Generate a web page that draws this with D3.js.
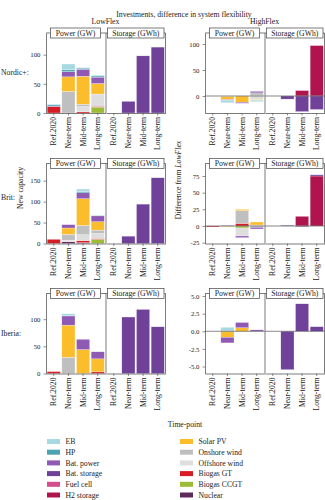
<html>
<head>
<meta charset="utf-8">
<script src="https://d3js.org/d3.v7.min.js"></script>
<style>
body { margin: 0; background: #fff; }
text { font-family: "Liberation Serif", "DejaVu Serif", serif; fill: #222; }
</style>
</head>
<body>
<script>
// categories
var timepoints = ["Ref.2020", "Near-term", "Mid-term", "Long-term"];
// stack order, bottom up
var techs = ["Nuclear", "Biogas CCGT", "Biogas GT", "Offshore wind", "Onshore wind", "Solar PV",
             "H2 storage", "Fuel cell", "Bat. storage", "Bat. power", "HP", "EB"];
var techColors = ["#5e2a5e", "#9cbc38", "#d81c24", "#dedede", "#bfbfbf", "#fbbd2c",
                  "#b0144f", "#d44d8c", "#6f4199", "#8e5ab4", "#4ba3b3", "#a6d9e0"];
var legendLeft = ["EB", "HP", "Bat. power", "Bat. storage", "Fuel cell", "H2 storage"];
var legendRight = ["Solar PV", "Onshore wind", "Offshore wind", "Biogas GT", "Biogas CCGT", "Nuclear"];

// values per technology, one per time-point
var nordicLowPower = {
    "Biogas CCGT": [0, 0, 0, 10], "Biogas GT": [11, 0, 2, 1.5], "Offshore wind": [0, 0, 9, 21],
    "Onshore wind": [0, 37, 4, 0], "Solar PV": [0, 25, 48, 18], "Bat. power": [1, 9, 12, 11],
    "HP": [2, 3, 2, 2], "EB": [1.5, 10, 1, 1.5]
};
var nordicLowStorage = { "Bat. storage": [0, 20, 98, 113] };
var nordicHighPower = {
    "Biogas CCGT": [0, 0, 0, 1], "Offshore wind": [0, -1, 0, -7], "Onshore wind": [0, 0, 0, 5],
    "Solar PV": [0, -6, -12, -1], "Bat. power": [0, -1, -2, 3], "HP": [0, -1, 0, 0], "EB": [0, -4, 0, -3]
};
var nordicHighStorage = { "H2 storage": [0, 0, 10.5, 97], "Bat. storage": [0, -6, -30, -26] };

var britLowPower = {
    "Nuclear": [0, 4, 2, 0], "Biogas CCGT": [0, 0, 0, 10], "Biogas GT": [10, 1, 5, 2],
    "Offshore wind": [0, 3, 14, 12], "Onshore wind": [0, 14, 22, 8], "Solar PV": [0, 15, 64, 20],
    "Bat. power": [0, 8, 14, 14], "HP": [0, 0, 3, 1], "EB": [0, 0, 6, 0]
};
var britLowStorage = { "Bat. storage": [0, 17.5, 94, 157] };
var britHighPower = {
    "Biogas CCGT": [0, 0, -3, 0], "Biogas GT": [-1.5, 0, 4, 0], "Offshore wind": [0, 0, -12, 1.5],
    "Onshore wind": [0, 0, 19, -2], "Solar PV": [0, -1, 2, 4.5], "Bat. power": [0, 0.8, -2.5, -2.5]
};
var britHighStorage = { "H2 storage": [0, 0, 14.5, 75], "Bat. storage": [0, 1.2, -1, 1.8] };

var iberiaLowPower = {
    "Biogas GT": [3.5, 0, 0, 3], "Onshore wind": [0, 30, 0, 0], "Solar PV": [0, 59, 44, 24],
    "Bat. power": [0, 17, 19, 13], "HP": [0, 1, 0, 0], "EB": [0, 3, 0, 0]
};
var iberiaLowStorage = { "Bat. storage": [0, 104, 118, 86] };
var iberiaHighPower = {
    "Solar PV": [0, -0.85, 0.5, 0], "Bat. power": [0, -0.8, 0.75, 0.2],
    "HP": [0, 0.12, 0, 0], "EB": [0, 0.45, 0, 0]
};
var iberiaHighStorage = { "Bat. storage": [0, -5.45, 3.9, 0.65] };

var rowLabels = ["Nordic+:", "Brit:", "Iberia:"];
var flexLabels = ["LowFlex", "HighFlex"];
var panelLabels = ["Power (GW)", "Storage (GWh)"];

var rows = [
    { label: rowLabels[0], top: 33, labelY: 75,
      data: [[nordicLowPower, nordicLowStorage], [nordicHighPower, nordicHighStorage]],
      domain: [[0, 137.2], [-32.7, 121.2]], ticks: [[0, 50, 100], [0, 50, 100]], fmt: ["d", "d"] },
    { label: rowLabels[1], top: 163.5, labelY: 200,
      data: [[britLowPower, britLowStorage], [britHighPower, britHighStorage]],
      domain: [[0, 191], [-26.25, 93.75]], ticks: [[0, 50, 100, 150], [-25, 0, 25, 50, 75]], fmt: ["d", "d"] },
    { label: rowLabels[2], top: 293.5, labelY: 336,
      data: [[iberiaLowPower, iberiaLowStorage], [iberiaHighPower, iberiaHighStorage]],
      domain: [[0, 147.3], [-5.99, 5.36]], ticks: [[0, 50, 100], [-5, -2.5, 0, 2.5, 5]], fmt: ["d", ".1f"] }
];
var colX = [46, 205];
var panelW = 59.5, panelH = 80;
var lineCol = "#444";

var color = d3.scaleOrdinal().domain(techs).range(techColors);

var svg = d3.select("body").append("svg")
    .attr("width", 325)
    .attr("height", 500);

svg.append("text")
    .attr("x", 184).attr("y", 16.5)
    .attr("text-anchor", "middle")
    .style("font-size", "7.7px")
    .text("Investments, difference in system flexibility");

flexLabels.forEach(function(f, c) {
    svg.append("text")
        .attr("x", colX[c] + panelW).attr("y", 23.5)
        .attr("text-anchor", "middle")
        .style("font-size", "7.7px")
        .text(f);
});

var stack = d3.stack().keys(techs).offset(d3.stackOffsetDiverging);

rows.forEach(function(r) {
    svg.append("text")
        .attr("x", 1).attr("y", r.labelY)
        .style("font-size", "7.7px")
        .text(r.label);

    [0, 1].forEach(function(c) {
        var bottom = r.top + panelH;
        var y = d3.scaleLinear().domain(r.domain[c]).range([bottom, r.top]);
        var g = svg.append("g");

        // strip line behind the boxes
        g.append("line")
            .attr("x1", colX[c]).attr("x2", colX[c] + 2 * panelW + 0.5)
            .attr("y1", r.top).attr("y2", r.top)
            .attr("stroke", lineCol).attr("stroke-width", 0.7);

        [0, 1].forEach(function(p) {
            var x0 = colX[c] + p * 60;
            var x = d3.scaleBand().domain(timepoints)
                .range([x0, x0 + panelW])
                .paddingInner(0.1).paddingOuter(0.08);

            var vals = r.data[c][p];
            var table = timepoints.map(function(tp, i) {
                var o = { tp: tp };
                techs.forEach(function(t) { o[t] = vals[t] ? vals[t][i] : 0; });
                return o;
            });
            var series = stack(table);

            g.selectAll(null)
                .data(series)
                .enter().append("g")
                .attr("fill", function(s) { return color(s.key); })
                .selectAll("rect")
                .data(function(s) { return s.filter(function(d) { return d[1] !== d[0]; }); })
                .enter().append("rect")
                .attr("x", function(d) { return x(d.data.tp); })
                .attr("width", x.bandwidth())
                .attr("y", function(d) { return y(Math.max(d[0], d[1])); })
                .attr("height", function(d) { return Math.abs(y(d[0]) - y(d[1])); })
                .attr("stroke", "#fff").attr("stroke-width", 0.4).attr("stroke-opacity", 0.7);

            if (r.domain[c][0] < 0) {
                g.append("line")
                    .attr("x1", x0).attr("x2", x0 + panelW)
                    .attr("y1", y(0)).attr("y2", y(0))
                    .attr("stroke", "#555").attr("stroke-width", 0.7);
            }

            // x axis
            var xa = g.append("g")
                .attr("transform", "translate(0," + bottom + ")")
                .call(d3.axisBottom(x).tickSize(2.5).tickSizeOuter(0));
            xa.select(".domain").attr("stroke", lineCol).attr("stroke-width", 0.7);
            xa.selectAll(".tick line").attr("stroke", lineCol).attr("stroke-width", 0.6);
            xa.selectAll("text")
                .attr("transform", "rotate(-90)")
                .attr("text-anchor", "end")
                .attr("x", -4).attr("y", 0).attr("dy", "0.35em")
                .style("font-size", "7.7px")
                .style("font-family", "Liberation Serif")
                .attr("fill", "#222");

            // panel borders
            if (p === 1) {
                [x0, x0 + panelW].forEach(function(xx) {
                    g.append("line")
                        .attr("x1", xx).attr("x2", xx)
                        .attr("y1", r.top).attr("y2", bottom)
                        .attr("stroke", lineCol).attr("stroke-width", 0.7);
                });
            }

            // strip box
            var bx0 = p === 0 ? x0 + 4.5 : x0 + 1.5;
            var bx1 = p === 0 ? x0 + panelW - 5 : x0 + panelW - 1.5;
            g.append("rect")
                .attr("x", bx0).attr("y", r.top - 5)
                .attr("width", bx1 - bx0).attr("height", 10)
                .attr("fill", "#fff")
                .attr("stroke", lineCol).attr("stroke-width", 0.7);
            g.append("text")
                .attr("x", (bx0 + bx1) / 2).attr("y", r.top + 2.6)
                .attr("text-anchor", "middle")
                .style("font-size", "7.7px")
                .text(panelLabels[p]);
        });

        // y axis
        var fmt = d3.format(r.fmt[c]);
        var ya = g.append("g")
            .attr("transform", "translate(" + colX[c] + ",0)")
            .call(d3.axisLeft(y).tickValues(r.ticks[c]).tickSize(2.5).tickSizeOuter(0)
                .tickFormat(function(d) { return (d < 0 ? "-" : "") + fmt(Math.abs(d)); }));
        ya.select(".domain").attr("stroke", lineCol).attr("stroke-width", 0.7);
        ya.selectAll(".tick line").attr("stroke", lineCol).attr("stroke-width", 0.6);
        ya.selectAll("text")
            .style("font-size", "6.8px")
            .style("font-family", "Liberation Serif")
            .attr("fill", "#222");
    });
});

// axis titles
svg.append("text")
    .attr("transform", "translate(23,188) rotate(-90)")
    .attr("text-anchor", "middle")
    .style("font-size", "7.7px")
    .text("New capacity");

var diffTitle = svg.append("text")
    .attr("transform", "translate(181,180) rotate(-90)")
    .attr("text-anchor", "middle")
    .style("font-size", "7.7px");
diffTitle.append("tspan").text("Difference from ");
diffTitle.append("tspan").style("font-style", "italic").text("LowFlex");

svg.append("text")
    .attr("x", 185).attr("y", 427)
    .attr("text-anchor", "middle")
    .style("font-size", "7.7px")
    .text("Time-point");

// legend
[legendLeft, legendRight].forEach(function(list, k) {
    var lx = k === 0 ? 47 : 180;
    var lg = svg.selectAll(null)
        .data(list)
        .enter().append("g")
        .attr("transform", function(d, i) { return "translate(" + lx + "," + (441.5 + i * 10.7) + ")"; });
    lg.append("rect")
        .attr("x", 0).attr("y", -2.5)
        .attr("width", 13).attr("height", 5)
        .attr("fill", function(d) { return color(d); });
    lg.append("text")
        .attr("x", 18.5).attr("y", 2.6)
        .style("font-size", "7.7px")
        .text(function(d) { return d; });
});
</script>
</body>
</html>
